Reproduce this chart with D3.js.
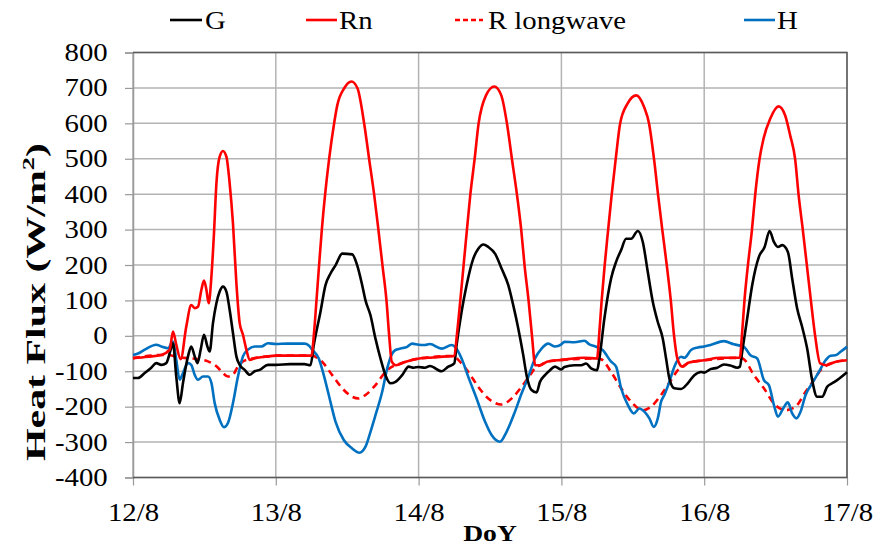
<!DOCTYPE html>
<html><head><meta charset="utf-8">
<script src="https://cdn.jsdelivr.net/npm/d3@7"></script>
<style>body{margin:0;background:#fff}svg{display:block}svg text{font-family:"Times New Roman",Times,"Liberation Serif","DejaVu Serif",serif !important}</style>
</head><body>
<svg id="c" width="887" height="548"></svg>
<script>
// ---- data (day of August, value W/m2) ----
const xTicks = [12, 13, 14, 15, 16, 17];
const xTickLabels = ["12/8", "13/8", "14/8", "15/8", "16/8", "17/8"];
const yTicks = [-400,-300,-200,-100,0,100,200,300,400,500,600,700,800];
const seriesNames = ["G", "Rn", "R longwave", "H"];

const rnData = [
[12.0,-63],[12.105,-59],[12.198,-54],[12.257,-39],[12.280,12],[12.303,-25],[12.334,-66],[12.373,26],[12.408,87],[12.432,78],[12.455,82],[12.479,130],[12.497,156],[12.514,130],[12.530,92],[12.549,167],[12.567,289],[12.584,430],[12.607,506],[12.630,522],[12.654,506],[12.677,430],[12.700,318],[12.724,148],[12.747,36],[12.770,3],[12.794,-39],[12.817,-68],[12.852,-63],[12.945,-58],
[13.0,-56],[13.1,-56],[13.2,-56],[13.250,-56],[13.266,0],[13.285,100],[13.303,199],[13.322,298],[13.345,398],[13.373,498],[13.408,599],[13.43,650],[13.479,699],[13.530,718],[13.572,699],[13.619,599],[13.654,498],[13.689,398],[13.719,298],[13.747,199],[13.775,100],[13.794,0],[13.812,-73],[13.840,-83],[13.910,-73],
[14.004,-64],[14.1,-61],[14.2,-58],[14.25,-57],[14.268,2],[14.292,100],[14.315,199],[14.338,298],[14.362,398],[14.392,498],[14.420,599],[14.472,679],[14.530,704],[14.579,679],[14.619,599],[14.654,498],[14.689,398],[14.719,298],[14.742,199],[14.770,100],[14.794,0],[14.817,-83],[14.852,-83],[14.899,-73],
[15.004,-68],[15.16,-62],[15.25,-64],[15.264,0],[15.282,100],[15.303,199],[15.327,298],[15.352,398],[15.380,498],[15.411,599],[15.462,655],[15.525,679],[15.579,646],[15.614,599],[15.649,498],[15.677,398],[15.707,298],[15.738,199],[15.766,100],[15.789,0],[15.812,-64],[15.847,-87],[15.894,-75],
[16.0,-69],[16.11,-62],[16.25,-62],[16.264,0],[16.282,100],[16.306,199],[16.334,298],[16.357,398],[16.387,498],[16.415,556],[16.462,613],[16.521,648],[16.567,622],[16.602,566],[16.637,498],[16.661,398],[16.691,298],[16.719,199],[16.747,100],[16.777,0],[16.812,-78],[16.859,-83],[16.906,-75],[17.0,-69]
];

const gData = [
[12.0,-119],[12.035,-119],[12.082,-105],[12.128,-90],[12.163,-77],[12.198,-82],[12.233,-77],[12.264,-39],[12.280,-21],[12.303,-115],[12.327,-190],[12.350,-133],[12.385,-58],[12.408,-30],[12.432,-58],[12.451,-77],[12.474,-39],[12.497,3],[12.521,-30],[12.537,-44],[12.560,36],[12.584,92],[12.607,125],[12.630,139],[12.654,125],[12.677,73],[12.700,8],[12.724,-58],[12.747,-82],[12.782,-96],[12.817,-110],[12.852,-100],[12.887,-96],[12.945,-82],
[13.0,-82],[13.1,-80],[13.2,-80],[13.243,-83],[13.266,-26],[13.313,68],[13.348,143],[13.383,176],[13.418,199],[13.465,232],[13.535,230],[13.570,199],[13.605,143],[13.628,100],[13.663,58],[13.698,-8],[13.733,-64],[13.768,-111],[13.803,-134],[13.838,-130],[13.885,-111],[13.931,-87],[13.966,-90],
[14.0,-88],[14.044,-90],[14.079,-85],[14.161,-100],[14.208,-87],[14.250,-78],[14.266,-26],[14.301,68],[14.336,143],[14.383,218],[14.418,246],[14.453,258],[14.488,251],[14.535,232],[14.581,190],[14.628,143],[14.663,86],[14.698,21],[14.733,-55],[14.756,-111],[14.791,-153],[14.826,-160],[14.850,-130],[14.885,-111],[14.920,-97],[14.955,-87],
[15.0,-95],[15.021,-88],[15.091,-83],[15.138,-83],[15.173,-78],[15.208,-92],[15.250,-97],[15.266,-64],[15.301,49],[15.348,162],[15.383,209],[15.418,242],[15.453,274],[15.488,274],[15.535,296],[15.570,265],[15.605,180],[15.640,96],[15.675,39],[15.710,-8],[15.733,-64],[15.756,-120],[15.791,-148],[15.838,-150],[15.885,-134],[15.931,-111],[15.978,-102],
[16.0,-104],[16.044,-94],[16.091,-90],[16.138,-81],[16.184,-84],[16.231,-90],[16.250,-87],[16.266,-45],[16.301,49],[16.336,143],[16.383,223],[16.423,251],[16.458,296],[16.488,265],[16.516,251],[16.546,256],[16.586,237],[16.616,162],[16.651,77],[16.686,25],[16.721,-36],[16.756,-125],[16.791,-172],[16.826,-172],[16.861,-144],[16.896,-134],[16.931,-125],[17.0,-103]
];

const rlwData = [
[12.0,-63],[12.198,-54],[12.257,-55],[12.315,-60],[12.385,-63],[12.455,-66],[12.525,-72],[12.584,-86],[12.630,-105],[12.665,-115],[12.700,-110],[12.735,-86],[12.770,-72],[12.817,-66],[12.945,-58],
[13.0,-56],[13.25,-56],[13.324,-73],[13.395,-111],[13.465,-148],[13.535,-172],[13.581,-177],[13.628,-167],[13.698,-139],[13.768,-102],[13.815,-87],[13.840,-83],[13.910,-73],
[14.004,-64],[14.25,-57],[14.278,-68],[14.348,-102],[14.418,-144],[14.488,-177],[14.581,-194],[14.651,-177],[14.721,-144],[14.780,-111],[14.826,-87],[14.852,-83],[14.899,-73],
[15.004,-68],[15.25,-64],[15.278,-66],[15.348,-102],[15.418,-148],[15.488,-186],[15.570,-210],[15.628,-200],[15.698,-167],[15.768,-125],[15.826,-92],[15.847,-87],[15.894,-75],
[16.0,-69],[16.25,-62],[16.278,-66],[16.348,-111],[16.418,-148],[16.488,-191],[16.570,-210],[16.640,-200],[16.710,-158],[16.768,-125],[16.815,-97],[16.859,-83],[16.906,-75],[17.0,-69]
];

const hData = [
[12.0,-54],[12.035,-50],[12.082,-39],[12.163,-25],[12.198,-30],[12.245,-35],[12.280,-16],[12.303,-68],[12.327,-124],[12.350,-105],[12.385,-77],[12.408,-82],[12.432,-110],[12.455,-124],[12.490,-115],[12.525,-115],[12.549,-133],[12.572,-190],[12.607,-237],[12.637,-258],[12.665,-246],[12.700,-190],[12.735,-115],[12.770,-58],[12.805,-39],[12.852,-30],[12.899,-30],[12.945,-21],
[13.0,-23],[13.08,-22],[13.2,-22],[13.231,-27],[13.254,-39],[13.301,-64],[13.336,-111],[13.371,-167],[13.418,-242],[13.476,-294],[13.535,-318],[13.586,-330],[13.628,-313],[13.663,-271],[13.698,-224],[13.745,-158],[13.780,-92],[13.815,-50],[13.838,-40],[13.873,-36],[13.920,-31],[13.955,-22],
[14.0,-25],[14.044,-26],[14.079,-23],[14.161,-36],[14.231,-26],[14.254,-31],[14.301,-64],[14.348,-116],[14.406,-177],[14.465,-242],[14.511,-280],[14.570,-299],[14.616,-271],[14.675,-214],[14.721,-163],[14.768,-116],[14.815,-64],[14.861,-36],[14.908,-22],[14.955,-30],
[15.0,-24],[15.021,-17],[15.091,-18],[15.161,-14],[15.196,-24],[15.243,-31],[15.289,-40],[15.348,-73],[15.383,-87],[15.418,-148],[15.465,-195],[15.507,-219],[15.546,-205],[15.581,-214],[15.616,-233],[15.647,-257],[15.675,-233],[15.698,-186],[15.721,-167],[15.756,-130],[15.791,-87],[15.838,-59],[15.861,-62],[15.908,-40],[15.955,-33],
[16.0,-30],[16.044,-26],[16.138,-15],[16.208,-24],[16.278,-31],[16.324,-55],[16.371,-64],[16.418,-125],[16.453,-139],[16.488,-195],[16.516,-228],[16.553,-205],[16.586,-188],[16.616,-219],[16.647,-233],[16.675,-214],[16.710,-167],[16.756,-134],[16.803,-102],[16.850,-69],[16.885,-56],[16.920,-55],[16.955,-45],[17.0,-31]
];

// ---- drawing ----
const FONT = '"Times New Roman", Times, "Liberation Serif", "DejaVu Serif", serif';
const FS = 25, SX = 1.15;
const svg = d3.select("#c");
const L = 133, R = 847, T = 52.5, B = 477.5;
const x = d3.scaleLinear().domain([12, 17]).range([L, R]);
const y = d3.scaleLinear().domain([-400, 800]).range([B, T]);
const gridCol = "#b3b3b3";

// grid
svg.append("g").selectAll("line.h").data(yTicks).join("line")
  .attr("x1", L).attr("x2", R).attr("y1", d => y(d)).attr("y2", d => y(d))
  .attr("stroke", gridCol).attr("stroke-width", 1.5);
svg.append("g").selectAll("line.v").data(xTicks).join("line")
  .attr("x1", d => x(d)).attr("x2", d => x(d)).attr("y1", T).attr("y2", B)
  .attr("stroke", gridCol).attr("stroke-width", 1.5);

// axes
const yAxis = d3.axisLeft(y).tickValues(yTicks).tickFormat(d => String(d)).tickSize(8).tickPadding(14);
const gy = svg.append("g").attr("transform", `translate(${L},0)`).call(yAxis)
  .attr("font-family", FONT);
gy.select(".domain").attr("stroke", "#999").attr("stroke-width", 1.5);
gy.selectAll(".tick line").attr("stroke", "#999").attr("stroke-width", 1.2);
gy.selectAll(".tick text").attr("font-size", FS).attr("fill", "#000")
  .attr("font-family", FONT).attr("transform", `scale(${SX},1)`);

const xAxis = d3.axisBottom(x).tickValues(xTicks).tickFormat((d, i) => xTickLabels[i]).tickSize(8).tickPadding(18);
const gx = svg.append("g").attr("transform", `translate(0,${B})`).call(xAxis)
  .attr("font-family", FONT);
gx.select(".domain").remove();
gx.selectAll(".tick line").attr("stroke", "#999").attr("stroke-width", 1.2);
gx.selectAll(".tick text").attr("font-size", FS).attr("fill", "#000")
  .attr("font-family", FONT).attr("transform", `scale(${SX},1)`);

// border (top, right, bottom)
svg.append("path")
  .attr("d", `M${L},${T}H${R}V${B}H${L}`)
  .attr("fill", "none").attr("stroke", "#595959").attr("stroke-width", 1.5);

// lines
const line = d3.line().x(d => x(d[0])).y(d => y(d[1])).curve(d3.curveMonotoneX);
const series = [
  {data: rlwData, color: "#ff0000", dash: "7,5"},
  {data: hData, color: "#0070c0"},
  {data: gData, color: "#000000"},
  {data: rnData, color: "#ff0000"}
];
const plot = svg.append("g");
series.forEach(s => {
  plot.append("path").datum(s.data).attr("d", line)
    .attr("fill", "none").attr("stroke", s.color).attr("stroke-width", 2.6)
    .attr("stroke-linejoin", "round")
    .attr("stroke-dasharray", s.dash || null);
});

// titles
svg.append("text").attr("transform", `translate(${(L + R) / 2},541) scale(${SX},1)`).attr("text-anchor", "middle")
  .attr("font-family", FONT).attr("font-size", 24).attr("font-weight", "bold").text("DoY");
const yt = svg.append("text").attr("transform", `translate(36,302) rotate(-90)`)
  .attr("font-family", FONT).attr("dy", "0.33em")
  .attr("text-anchor", "middle").attr("font-size", 27).attr("font-weight", "bold")
  .attr("textLength", 318).attr("lengthAdjust", "spacingAndGlyphs");
yt.append("tspan").text("Heat Flux (W/m");
yt.append("tspan").attr("font-size", 17).attr("dy", -11).text("2");
yt.append("tspan").attr("dy", 11).text(")");

// legend
const legend = [
  {name: seriesNames[0], color: "#000000", x1: 170, x2: 202, tx: 205},
  {name: seriesNames[1], color: "#ff0000", x1: 306, x2: 337, tx: 339},
  {name: seriesNames[2], color: "#ff0000", x1: 455, x2: 483, tx: 488, dash: "5,3"},
  {name: seriesNames[3], color: "#0070c0", x1: 744, x2: 775, tx: 777}
];
const lg = svg.append("g").attr("font-family", FONT);
legend.forEach(l => {
  lg.append("line").attr("x1", l.x1).attr("x2", l.x2).attr("y1", 20).attr("y2", 20)
    .attr("stroke", l.color).attr("stroke-width", 2.6).attr("stroke-dasharray", l.dash || null);
  lg.append("text").attr("transform", `translate(${l.tx},29) scale(${SX},1)`)
    .attr("font-size", FS).text(l.name);
});
</script>
</body></html>
